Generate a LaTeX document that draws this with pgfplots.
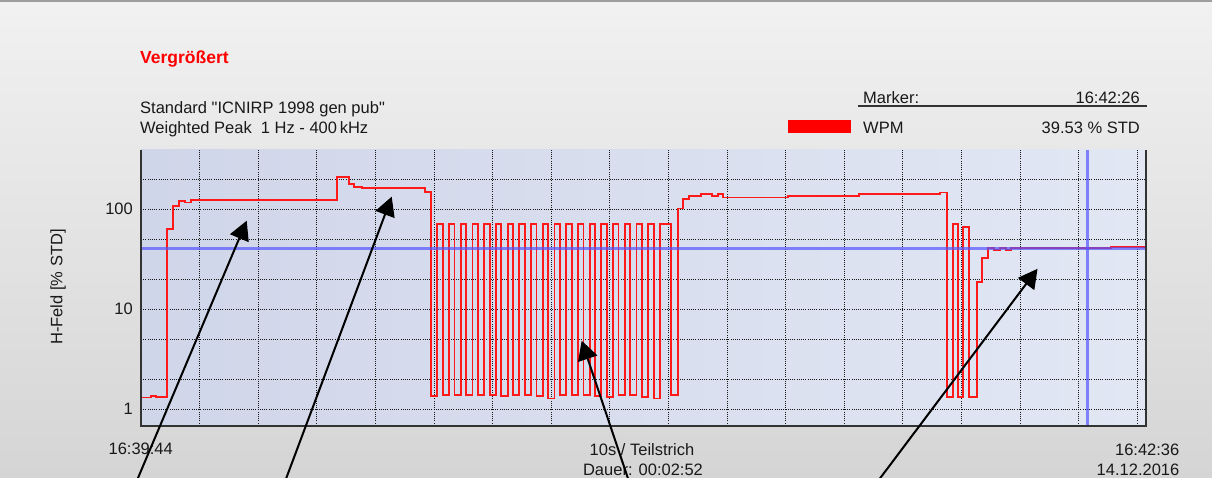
\documentclass[border=0pt]{standalone}
\usepackage{pgfplots}
\pgfplotsset{compat=1.18}
\usepackage{pgfplotstable}
\usepackage{fontspec}
\setmainfont{Liberation Sans}
\newfontfamily\nomap{Liberation Sans}
\usetikzlibrary{arrows.meta}
\definecolor{bgtop}{RGB}{241,241,241}
\definecolor{bgbot}{RGB}{213,213,213}
\definecolor{plotL}{RGB}{208,214,233}
\definecolor{plotR}{RGB}{226,231,244}
\definecolor{wpm}{RGB}{255,25,25}
\definecolor{mk}{RGB}{85,85,255}
\definecolor{txt}{RGB}{25,25,25}

\pgfplotstableread{
t v
0 1.31
1.66 1.37
2.56 1.32
4.39 63.5
5.51 108.6
6.54 120
7.51 117
8.53 123
33.4 209
35.5 178
36.35 168
37.66 162
48.46 150
49.5 1.36
50.56 70.8
51.50 1.40
52.56 70.8
53.50 1.40
54.56 70.8
55.50 1.38
56.56 70.8
57.50 1.38
58.56 70.8
59.50 1.40
60.56 70.8
61.50 1.36
62.56 70.8
63.50 1.40
64.56 70.8
65.50 1.38
66.56 70.8
67.50 1.36
68.56 70.8
69.50 1.28
70.56 70.8
71.50 1.40
72.56 70.8
73.50 1.38
74.56 70.8
75.50 1.40
76.56 70.8
77.50 1.36
78.56 70.8
79.50 1.33
80.56 70.8
81.50 1.38
82.56 70.8
83.50 1.40
84.56 70.8
85.50 1.33
86.56 70.8
87.50 1.28
88.56 70.8
90.44 1.38
91.59 102
92.44 126
93.57 136
95.56 141
97.39 136
98.41 141
99.37 131
110.46 136
122.53 141
136.35 147
137.49 1.32
138.62 71.3
139.47 1.32
140.32 66.5
141.35 1.32
142.61 18.9
143.57 32.4
144.59 40.7
145.61 38.9
146.59 40.7
147.61 38.9
148.41 40.7
165.48 41.9
171.45 41.9
}\wpmdata

\begin{document}
\begin{tikzpicture}[x=1pt,y=1pt]
\useasboundingbox (0,0) rectangle (1212,477);
\clip (0,0) rectangle (1212,477);
\shade[top color=bgtop, bottom color=bgbot] (0,0) rectangle (1212,477);
\fill[black!38] (0,474.5) rectangle (1212,477);

\fontsize{16.5}{19}\selectfont
\node[anchor=base west, inner sep=0pt, text=red, font=\fontsize{17.5}{19}\selectfont\bfseries] at (140,413) {Vergrößert};
\node[anchor=base west, inner sep=0pt, text=txt] at (140,363) {\nomap Standard "ICNIRP 1998 gen pub"};
\node[anchor=base west, inner sep=0pt, text=txt] at (140,343.7) {Weighted Peak\ \ 1 Hz - 400\,kHz};

\node[anchor=base west, inner sep=0pt, text=txt] at (863,373) {Marker:};
\node[anchor=base east, inner sep=0pt, text=txt] at (1140,373) {16:42:26};
\draw[line width=1.5pt, black!80] (857.7,371) -- (1146.7,371);
\fill[red] (788.3,343.7) rectangle (850.7,357);
\node[anchor=base west, inner sep=0pt, text=txt] at (863,343.7) {WPM};
\node[anchor=base east, inner sep=0pt, text=txt] at (1140,343.7) {39.53 \% STD};

\node[anchor=base, inner sep=0pt, text=txt] at (140.7,23) {16:39:44};
\node[anchor=base, inner sep=0pt, text=txt] at (642,22) {10s / Teilstrich};
\node[anchor=base, inner sep=0pt, text=txt] at (643,2) {Dauer: 00:02:52};
\node[anchor=base east, inner sep=0pt, text=txt] at (1179.5,22) {16:42:36};
\node[anchor=base east, inner sep=0pt, text=txt] at (1179.5,2) {14.12.2016};
\node[rotate=90, inner sep=0pt, text=txt] at (58,190) {H-Feld [\% STD]};

\begin{axis}[
  at={(141pt,51.3pt)}, anchor=south west,
  scale only axis, width=1004.7pt, height=275.7pt,
  xmin=0, xmax=171.45, ymode=log, ymin=0.6855, ymax=391.7,
  xtick={10,20,...,170}, xticklabels={,,},
  ytick={1,10,100}, minor ytick={2,5,20,50,200},
  log ticks with fixed point,
  yticklabel style={font=\fontsize{16.5}{19}\selectfont, text=txt, /pgf/number format/assume math mode=true, inner sep=0pt, xshift=-8pt},
  grid=both,
  major grid style={black!90, line width=1pt, dash pattern=on 1pt off 1.2pt},
  minor grid style={black!90, line width=1pt, dash pattern=on 1pt off 1.2pt},
  major tick length=0pt, minor tick length=0pt,
  axis line style={draw=none},
  axis background/.style={left color=plotL, right color=plotR},
  clip=false,
]
\addplot[const plot, wpm, line width=1.8pt] table[x=t, y=v] {\wpmdata};
\addplot[mk, opacity=0.7, line width=3pt] coordinates {(0,41) (171.45,41)};
\addplot[mk, opacity=0.7, line width=3pt] coordinates {(161.55,0.6855) (161.55,391.7)};
\draw[line width=2pt, black!80] (rel axis cs:0,1) -- (rel axis cs:0,0) -- (rel axis cs:1,0) -- (rel axis cs:1,1);
\draw[line width=2pt, -{Triangle[length=19pt,width=20pt]}] (axis cs:-1.02,0.175) -- (axis cs:18.04,76.9);
\draw[line width=2pt, -{Triangle[length=19pt,width=20pt]}] (axis cs:24.35,0.175) -- (axis cs:42.78,133.7);
\draw[line width=2pt, -{Triangle[length=19pt,width=20pt]}] (axis cs:83.48,0.175) -- (axis cs:75.2,4.85);
\draw[line width=2pt, -{Triangle[length=19pt,width=20pt]}] (axis cs:125.26,0.175) -- (axis cs:152.99,25.4);
\end{axis}
\end{tikzpicture}
\end{document}
